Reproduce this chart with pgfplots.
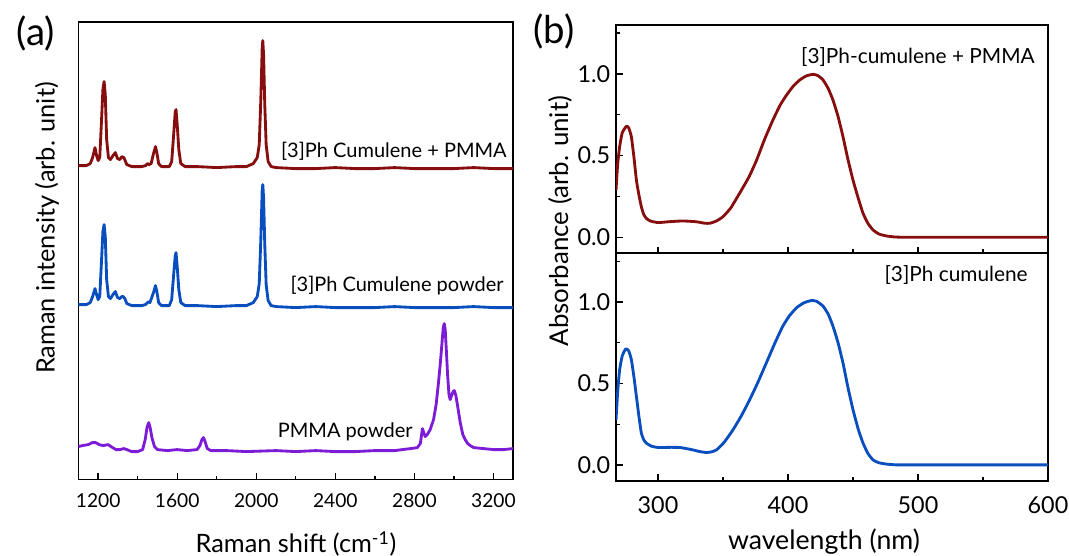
\documentclass[border=0pt]{standalone}
\usepackage{fontspec}
\setmainfont{Lato}
\usepackage{pgfplots}
\pgfplotsset{compat=1.18}
\definecolor{cred}{RGB}{135,14,14}
\definecolor{cblue}{RGB}{8,78,190}
\definecolor{cpurple}{RGB}{125,28,215}
\pgfplotsset{
  common/.style={
    scale only axis, anchor=south west,
    axis line style={line width=1pt},
    tick style={black, line width=0.8pt},
    major tick length=4pt, minor tick length=2.3pt,
    /pgf/number format/assume math mode=true,
    every axis plot/.append style={line width=1.7pt, line join=round},
  }
}
\begin{document}
\begin{tikzpicture}
\path[use as bounding box] (0,0) rectangle (641.4pt,333.6pt);
% ---------- panel (a)
\begin{axis}[common, at={(47.04pt,45.84pt)}, width=260.88pt, height=274.38pt,
  xmin=1100, xmax=3300, ymin=0, ymax=457.3,
  xtick={1200,1600,2000,2400,2800,3200}, minor xtick={1400,1800,2200,2600,3000},
  ytick=\empty, xtick pos=bottom,
  xticklabel style={font=\fontsize{11.5}{11.5}\selectfont, yshift=-5pt},
  /pgf/number format/set thousands separator={}]
\addplot[cred] coordinates {
(1100,314)(1140,314)(1160,316)(1172,322)(1184,332)(1192,324)(1200,319)(1208,322)(1216,355)(1224,390)(1230,398)(1236,385)(1243,340)(1252,322)(1262,320)(1275,324)(1287,327)(1298,321)(1310,320)(1320,323)(1330,322)(1345,315)(1370,313)(1420,313)(1440,314)(1450,316)(1458,315)(1468,316)(1480,326)(1490,333)(1497,327)(1506,316)(1520,313)(1560,313)(1572,318)(1582,345)(1590,368)(1594,370)(1600,355)(1608,330)(1618,316)(1640,313)(1700,313)(1800,312)(1900,313)(1950,313)(1985,316)(2005,322)(2015,335)(2023,380)(2030,432)(2033,439)(2037,425)(2043,375)(2050,335)(2060,318)(2075,313)(2100,312)(2200,311)(2300,311)(2400,312)(2500,311)(2600,311)(2700,312)(2800,311)(2900,311)(3000,311)(3100,312)(3200,311)(3300,311)};
\addplot[cblue] coordinates {
(1100,175)(1140,175)(1160,177)(1172,183)(1184,191)(1192,185)(1200,180)(1208,183)(1216,215)(1224,248)(1230,255)(1236,243)(1243,200)(1252,183)(1262,181)(1275,185)(1287,188)(1298,182)(1310,181)(1320,183)(1327,183)(1335,181)(1345,176)(1370,174)(1420,174)(1440,175)(1450,177)(1456,178)(1462,177)(1480,187)(1490,194)(1497,188)(1506,177)(1520,174)(1560,174)(1572,180)(1582,205)(1590,224)(1594,227)(1600,213)(1608,190)(1618,177)(1640,174)(1700,174)(1800,173)(1900,174)(1950,174)(1985,177)(2005,183)(2015,196)(2023,240)(2030,290)(2033,295)(2037,282)(2043,235)(2050,195)(2060,179)(2075,174)(2100,173)(2200,172)(2300,173)(2400,172)(2500,172)(2600,172)(2700,173)(2800,172)(2900,172)(3000,172)(3100,173)(3200,172)(3300,172)};
\addplot[cpurple] coordinates {
(1100,33)(1120,34)(1150,35)(1170,37)(1187,37)(1205,35)(1225,34)(1250,35)(1265,33)(1290,30)(1310,30)(1330,31)(1345,30)(1370,28)(1400,28)(1425,30)(1438,40)(1447,52)(1456,57)(1463,52)(1472,42)(1485,33)(1500,30)(1550,29)(1600,30)(1650,29)(1700,30)(1715,34)(1725,40)(1733,42)(1741,38)(1752,31)(1770,29)(1850,29)(1950,28)(2100,29)(2200,28)(2300,29)(2400,28)(2500,28)(2600,29)(2700,29)(2780,31)(2815,32)(2830,36)(2841,51)(2849,46)(2855,43)(2865,45)(2880,50)(2897,60)(2910,75)(2922,97)(2932,118)(2939,135)(2946,152)(2951,156)(2956,150)(2962,128)(2968,105)(2975,85)(2981,80)(2988,84)(2996,88)(3002,89)(3010,84)(3020,72)(3032,57)(3045,45)(3057,40)(3070,36)(3083,34)(3100,32)(3150,31)(3200,30)(3250,30)(3300,31)};
\end{axis}
% ---------- panel (b) upper
\begin{axis}[common, at={(369.6pt,181.62pt)}, width=259.2pt, height=136.98pt,
  xmin=267.7, xmax=600, ymin=-0.098, ymax=1.30,
  xtick={300,400,500,600}, minor xtick={350,450,550}, xticklabels={},
  ytick={0,0.5,1.0}, minor ytick={0.25,0.75,1.25},
  xtick pos=bottom, ytick pos=left,
  yticklabel style={font=\fontsize{14}{14}\selectfont},
  yticklabel={\pgfmathprintnumber[fixed,fixed zerofill,precision=1]{\tick}}]
\addplot[cred, smooth, tension=0.3] coordinates {
(267.7,0.29)(269,0.45)(270.5,0.555)(272.5,0.64)(275.7,0.68)(277.5,0.67)(279.5,0.616)(281.5,0.49)(283.4,0.35)(285.3,0.26)(287.2,0.187)(289,0.14)(291,0.116)(294,0.10)(300,0.09)(308,0.095)(319,0.10)(329.5,0.095)(336,0.086)(340,0.086)(345,0.10)(350,0.126)(356,0.18)(362.8,0.27)(370,0.37)(375.7,0.47)(382,0.60)(388.5,0.72)(394,0.81)(398.8,0.87)(404,0.925)(409,0.963)(414,0.988)(419.2,0.998)(423,0.99)(427,0.963)(431,0.91)(434.6,0.84)(438.5,0.74)(442.3,0.616)(446,0.48)(450,0.35)(454,0.24)(457.7,0.147)(461.5,0.085)(465.4,0.045)(470,0.02)(475.7,0.008)(482,0.002)(490,0.0)(520,0.0)(560,0.0)(600,0.0)};
\end{axis}
% ---------- panel (b) lower
\begin{axis}[common, at={(369.6pt,45.18pt)}, width=259.2pt, height=136.44pt,
  xmin=267.7, xmax=600, ymin=-0.097, ymax=1.30,
  xtick={300,400,500,600}, minor xtick={350,450,550},
  ytick={0,0.5,1.0}, minor ytick={0.25,0.75,1.25},
  xtick pos=bottom, ytick pos=left,
  xticklabel style={font=\fontsize{14}{14}\selectfont, yshift=-6pt},
  yticklabel style={font=\fontsize{14}{14}\selectfont},
  yticklabel={\pgfmathprintnumber[fixed,fixed zerofill,precision=1]{\tick}}]
\addplot[cblue, smooth, tension=0.3] coordinates {
(267.7,0.277)(269,0.45)(270.5,0.585)(272.5,0.67)(275.2,0.713)(277.5,0.70)(279.5,0.647)(281.5,0.54)(283.4,0.42)(285.3,0.30)(287.2,0.195)(289,0.155)(291,0.134)(295,0.115)(300,0.107)(310,0.108)(316.7,0.107)(322,0.10)(327,0.092)(332,0.082)(337.3,0.076)(341,0.08)(345,0.092)(351,0.14)(357.7,0.216)(364,0.30)(370.5,0.40)(377,0.51)(383.3,0.626)(390,0.75)(396,0.852)(401,0.915)(406.5,0.965)(412,0.995)(418,1.01)(422,1.005)(427,0.975)(431,0.925)(434.6,0.852)(438.5,0.75)(442.3,0.626)(446,0.48)(450,0.339)(454,0.22)(457.7,0.134)(461.5,0.07)(465.4,0.031)(470,0.013)(475.7,0.005)(482,0.001)(490,0.0)(600,0.0)};
\end{axis}
% ---------- texts
\node[font=\fontsize{23}{23}\selectfont] at (21.6pt,313.8pt) {(a)};
\node[font=\fontsize{23}{23}\selectfont] at (332.4pt,315pt) {(b)};
\node[rotate=90, font=\fontsize{15.2}{15.2}\selectfont] at (28.2pt,196.8pt) {Raman intensity (arb. unit)};
\node[anchor=base, inner sep=0pt, font=\fontsize{15.2}{15.2}\selectfont] at (177.6pt,1.8pt) {Raman shift (cm\textsuperscript{-1})};
\node[rotate=90, font=\fontsize{15.5}{15.5}\selectfont] at (336pt,201pt) {Absorbance (arb. unit)};
\node[font=\fontsize{16}{16}\selectfont] at (494.4pt,8.4pt) {wavelength (nm)};
\node[anchor=east, inner sep=0pt, font=\fontsize{12}{12}\selectfont] at (304.2pt,243pt) {[3]Ph Cumulene + PMMA};
\node[anchor=east, inner sep=0pt, font=\fontsize{12}{12}\selectfont] at (302.4pt,162pt) {[3]Ph Cumulene powder};
\node[anchor=east, inner sep=0pt, font=\fontsize{12}{12}\selectfont] at (247.8pt,74.4pt) {PMMA powder};
\node[anchor=east, inner sep=0pt, font=\fontsize{12.5}{12.5}\selectfont] at (621pt,299.4pt) {[3]Ph-cumulene + PMMA};
\node[anchor=east, inner sep=0pt, font=\fontsize{12.5}{12.5}\selectfont] at (616.8pt,168.6pt) {[3]Ph cumulene};
\end{tikzpicture}
\end{document}
